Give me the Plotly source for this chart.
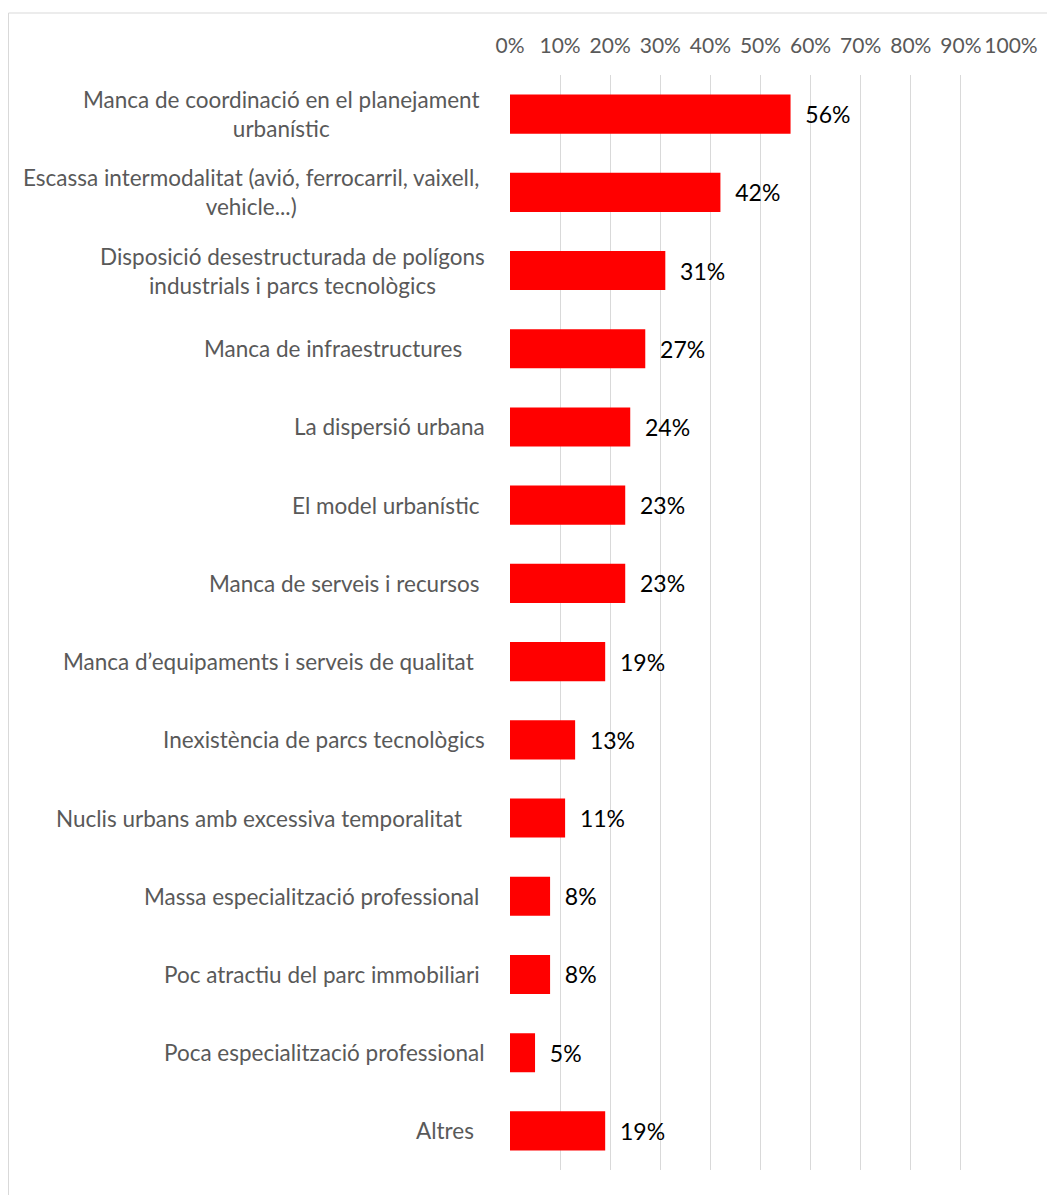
import plotly.graph_objects as go

NB = "\u00a0"
categories = [
    "Manca de coordinació en el planejament" + NB + "<br>urbanístic" + NB,
    "Escassa intermodalitat (avió, ferrocarril, vaixell," + NB + "<br>vehicle...)" + NB,
    "Disposició desestructurada de polígons<br>industrials i parcs tecnològics",
    "Manca de infraestructures" + NB * 4,
    "La dispersió urbana",
    "El model urbanístic" + NB,
    "Manca de serveis i recursos" + NB,
    "Manca d’equipaments i serveis de qualitat" + NB * 2,
    "Inexistència de parcs tecnològics",
    "Nuclis urbans amb excessiva temporalitat" + NB * 4,
    "Massa especialització professional" + NB,
    "Poc atractiu del parc immobiliari" + NB,
    "Poca especialització professional",
    "Altres" + NB * 2,
]
values = [0.56, 0.42, 0.31, 0.27, 0.24, 0.23, 0.23, 0.19, 0.13, 0.11, 0.08, 0.08, 0.05, 0.19]
value_labels = [NB * 2 + f"{round(v*100)}%" for v in values]
tick_vals = [i / 10 for i in range(11)]
tick_text = [f"{i*10}%" for i in range(11)]

fig = go.Figure(go.Bar(
    y=categories, x=values, orientation="h",
    marker=dict(color="#FF0000", line=dict(width=0)),
    text=value_labels, textposition="outside",
    textfont=dict(family="Lato", size=23, color="#000000"),
    cliponaxis=False, width=0.5,
))

# the page body adds an 8px margin around the figure
W, H = 1047, 1187
L, R, T, B = 502, 44, 67, 25
pw, ph = W - L - R, H - T - B

def px(xp):
    return (xp - L) / pw

def py(yp):
    return (H - B - yp) / ph

# category labels as centred multi-line annotations (Excel-style wrapping)
label_annotations = [
    dict(
        x=0, xref="paper", y=cat, yref="y",
        text=cat, showarrow=False, xanchor="right", yanchor="middle",
        align="center", xshift=-23,
        font=dict(family="Lato", size=22.5, color="#595959"),
    )
    for cat in categories
]

fig.update_layout(
    width=W, height=H,
    margin=dict(l=L, r=R, t=T, b=B),
    paper_bgcolor="white", plot_bgcolor="white",
    showlegend=False,
    xaxis=dict(
        side="top", range=[0, 1], tickvals=tick_vals, ticktext=tick_text,
        showgrid=True, gridcolor="#D9D9D9", gridwidth=1,
        zeroline=False, showline=False, ticks="", ticklabelstandoff=17,
        tickfont=dict(family="Lato", size=21, color="#595959"),
    ),
    yaxis=dict(
        autorange="reversed", showgrid=False, zeroline=False, showline=False,
        ticks="", showticklabels=False,
    ),
    annotations=label_annotations,
    shapes=[dict(
        type="rect", xref="paper", yref="paper",
        x0=px(0.5), x1=px(1060), y0=py(1200), y1=py(5),
        line=dict(color="#D9D9D9", width=1), fillcolor="rgba(0,0,0,0)", layer="below",
    )],
)

fig.write_html("out.html")
